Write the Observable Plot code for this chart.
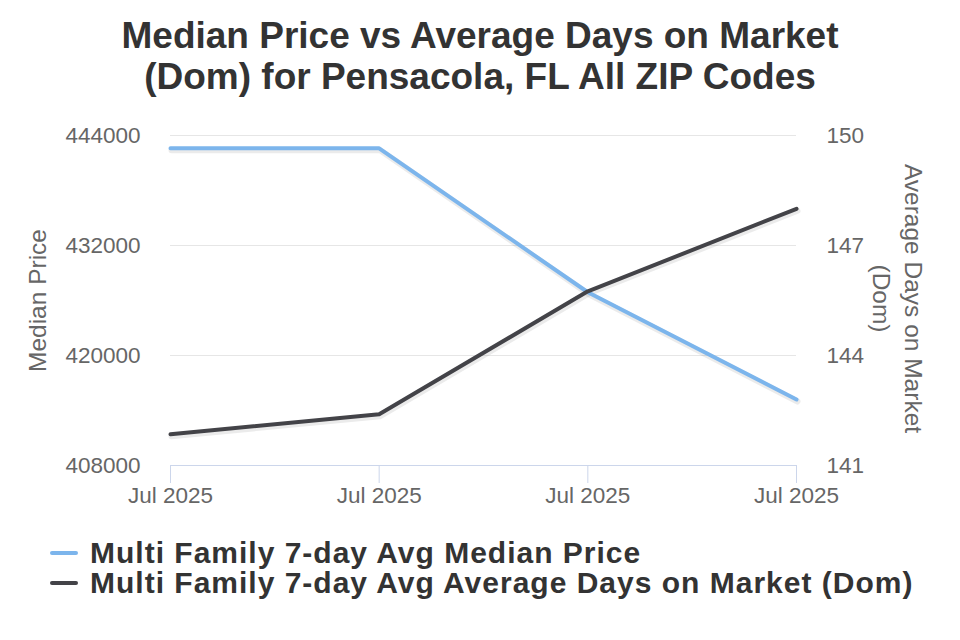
<!DOCTYPE html>
<html>
<head>
<meta charset="utf-8">
<script src="https://cdn.jsdelivr.net/npm/d3@7"></script>
<script src="https://cdn.jsdelivr.net/npm/@observablehq/plot@0.6"></script>
<style>
  html, body { margin: 0; padding: 0; background: #fff; }
  body { width: 960px; height: 640px; position: relative; overflow: hidden; font-family: "Liberation Sans", Arial, sans-serif; }
  #title { position: absolute; left: 0; top: 15px; width: 960px; text-align: center; font-weight: bold; font-size: 37px; line-height: 41px; color: #333; }
  #chart { position: absolute; left: 0; top: 110px; }
  #legend { position: absolute; left: 50px; top: 538px; }
  .item { display: flex; align-items: center; height: 30px; line-height: 30px; font-weight: bold; font-size: 30px; letter-spacing: 1px; color: #333; white-space: nowrap; }
  .sw { width: 28px; height: 4px; border-radius: 2px; margin-right: 12px; }
</style>
</head>
<body>
<div id="title">Median Price vs Average Days on Market<br>(Dom) for Pensacola, FL All ZIP Codes</div>
<div id="chart"></div>
<div id="legend"></div>
<script>
// Data
const dates = ["2025-07-01", "2025-07-08", "2025-07-15", "2025-07-22"];
const medianPrice = [442600, 442600, 426900, 415200];
const avgDom = [141.85, 142.4, 145.75, 148.0];
const priceTicks = [408000, 420000, 432000, 444000];
const domTicks = [141, 144, 147, 150];
const seriesNames = ["Multi Family 7-day Avg Median Price", "Multi Family 7-day Avg Average Days on Market (Dom)"];
const seriesColors = ["#7cb5ec", "#434348"];

const priceDomain = [408000, 444000];
const domDomain = [141, 150];
const toPrice = v => priceDomain[0] + (v - domDomain[0]) * (priceDomain[1] - priceDomain[0]) / (domDomain[1] - domDomain[0]);
const toDom = p => domDomain[0] + (p - priceDomain[0]) * (domDomain[1] - domDomain[0]) / (priceDomain[1] - priceDomain[0]);

const parse = d3.utcParse("%Y-%m-%d");
const priceData = dates.map((d, i) => ({date: parse(d), value: medianPrice[i]}));
const domData = dates.map((d, i) => ({date: parse(d), value: toPrice(avgDom[i])}));
const xDates = dates.map(parse);

const tickFont = {fontSize: 22.5, fill: "#666"};
const titleFont = {fontSize: 24.5, fill: "#666"};

const chart = Plot.plot({
  width: 960,
  height: 420,
  marginTop: 25,
  marginBottom: 65,
  marginLeft: 170,
  marginRight: 164,
  style: {fontFamily: "'Liberation Sans', Arial, sans-serif", fontSize: "20px", background: "transparent"},
  x: {type: "utc", domain: [xDates[0], xDates[xDates.length - 1]]},
  y: {domain: priceDomain},
  marks: [
    Plot.gridY(priceTicks, {stroke: "#e6e6e6", strokeOpacity: 1}),
    Plot.axisY(priceTicks, {anchor: "left", tickSize: 0, tickPadding: 30, tickFormat: d3.format("d"), label: null, ...tickFont}),
    Plot.axisY(domTicks.map(toPrice), {anchor: "right", tickSize: 0, tickPadding: 30, tickFormat: p => d3.format("d")(Math.round(toDom(p))), label: null, ...tickFont}),
    Plot.ruleY([priceDomain[0]], {stroke: "#ccd6eb", strokeWidth: 1}),
    Plot.axisX(xDates, {tickSize: 18, tickPadding: 4, stroke: "#ccd6eb", strokeOpacity: 1, tickFormat: d3.utcFormat("%b %Y"), label: null, ...tickFont}),
    Plot.text(["Median Price"], {frameAnchor: "left", textAnchor: "middle", lineAnchor: "middle", dx: -132, rotate: -90, ...titleFont}),
    Plot.text(["Average Days on Market\n(Dom)"], {frameAnchor: "right", textAnchor: "middle", lineAnchor: "middle", dx: 103, dy: -2, rotate: 90, lineHeight: 1.3, ...titleFont}),
    // shadows
    Plot.line(priceData, {x: "date", y: "value", stroke: "#000", strokeOpacity: 0.08, strokeWidth: 6, dx: 1, dy: 2}),
    Plot.line(domData, {x: "date", y: "value", stroke: "#000", strokeOpacity: 0.08, strokeWidth: 6, dx: 1, dy: 2}),
    Plot.line(priceData, {x: "date", y: "value", stroke: seriesColors[0], strokeWidth: 4}),
    Plot.line(domData, {x: "date", y: "value", stroke: seriesColors[1], strokeWidth: 4})
  ]
});
document.getElementById("chart").appendChild(chart);

const legend = document.getElementById("legend");
seriesNames.forEach((name, i) => {
  const item = document.createElement("div");
  item.className = "item";
  const sw = document.createElement("span");
  sw.className = "sw";
  sw.style.background = seriesColors[i];
  const label = document.createElement("span");
  label.textContent = name;
  item.appendChild(sw);
  item.appendChild(label);
  legend.appendChild(item);
});
</script>
</body>
</html>
